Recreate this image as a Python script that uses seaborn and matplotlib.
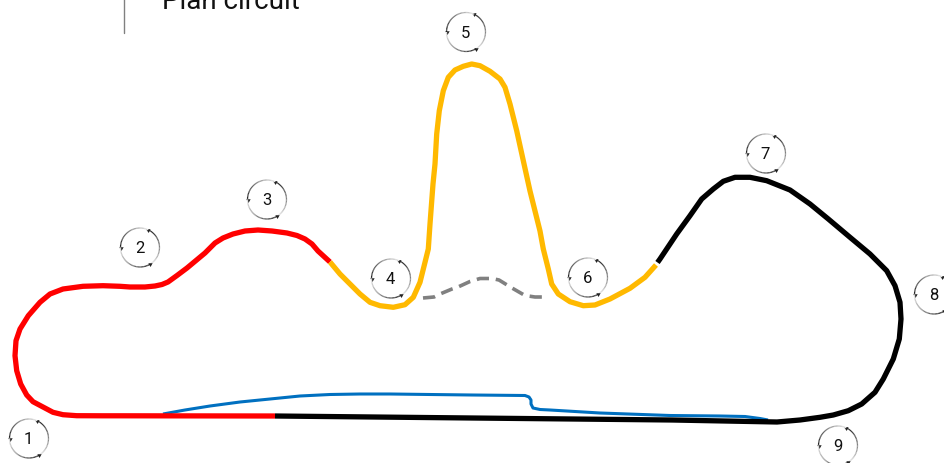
import numpy as np
import seaborn as sns
import matplotlib
matplotlib.use("Agg")
import matplotlib.pyplot as plt
from matplotlib.collections import LineCollection

sns.set_theme(style="white")
plt.rcParams['font.family'] = ['Roboto', 'DejaVu Sans']

red_x = [275,120,103,76.7,63,53,43,33,26.7,20.7,16.7,15,16,20,28.3,40,50,63,83,103,120,130,145,155,162,168,177,187,196,205,215,223,233,245,258,272,287,297,305,312,318,324,330]
red_y = [417,416.8,416.8,416.7,415.7,413.3,408,402.7,396,385,371.7,356.7,341.7,330,316.7,303.3,295,290,287.3,286.7,287.3,288,288,287,285.5,283,276.5,269,261.5,254,244,239,235,232,231,232,234,236.5,240,245,252,257.5,263]
orange_x = [330,340,350,360,370,380,393.3,405,413.3,420,425,428.3,430,433,435,436.7,439.3,443.3,448.3,455,463.3,471.7,480,490,500,505,510,516.7,523.3,530,540,543.3,548.3,551.7,558.3,570,583.3,595,610,630,645,656]
orange_y = [263,275,285,295,303.3,306.7,308.3,305.7,298.3,283.3,263.3,250,225,185,165,135,111.7,91.7,78.3,71,67.3,65,66.7,72.3,80,88.3,105,131.7,161.7,192,232,250,270,285,295,302.7,306.7,306,300,289.3,278.3,266]
black_x = [657.5,660,676.7,690,701.7,713.3,723.3,735,750,766.7,790,810,828.3,850,870,886.7,895,900,901,899.3,893.3,883.3,875,861.7,848.3,833.3,820,800,777,672,472,275]
black_y = [263.5,260,235,216.7,200,190,182.3,178.3,178.3,181.7,191,205,220,238.3,255,271.7,286.7,303.3,320,340,360,380,393.3,405,411.7,416,418.3,421,423,421,419,417]
grey_x = [423,434,440,452,458,470,480,492,499,512,525,535,546]
grey_y = [299,298,295,290,288,282.5,279.5,279.5,281,289,296.5,298,298]
blue_x = [163,185,210,240,270,300,330,360,390,430,472,525,529,531,531,533,540,550,600,670,720,745,760,768]
blue_y = [415,411,407,403,400,397,395.5,395,395,395.5,396,396.5,398,401,405,409,410.5,411,414,416.5,417,417.5,419.5,421]
turn_labels = ["1","2","3","4","5","6","7","8","9"]
turn_x = [29,140,267,391,466,588,766,934,838]
turn_y = [439.5,248.5,200.5,279.5,33,278.5,154.5,295.5,446.5]
title = "Plan circuit"

fig = plt.figure(figsize=(9.44,4.64), dpi=100, facecolor="white")
ax = fig.add_axes([0,0,1,1])

def track(x, y, color, lw, **kw):
    sns.lineplot(x=x, y=y, sort=False, estimator=None, color=color, linewidth=lw, ax=ax,
                 solid_joinstyle="round", **kw)

track(blue_x, blue_y, "#0070C0", 2.2, solid_capstyle="butt")
track(black_x, black_y, "#000000", 3.8, solid_capstyle="butt")
track(red_x, red_y, "#FF0000", 3.8, solid_capstyle="butt")
track(orange_x, orange_y, "#FFB900", 3.8, solid_capstyle="butt")
sns.lineplot(x=grey_x, y=grey_y, sort=False, estimator=None, color="#808080", linewidth=2.6, ax=ax,
             linestyle=(0,(3.4,1.9)), dash_capstyle="butt")

R = 19.5
arcs = [(59,-65),(-65,-180),(180,59)]
for cx, cy, label in zip(turn_x, turn_y, turn_labels):
    for a0, a1 in arcs:
        t = np.radians(np.linspace(a0, a1, 30))
        px = cx + R*np.cos(t)
        py = cy + R*np.sin(t)
        seg = np.stack([np.column_stack([px[:-1],py[:-1]]), np.column_stack([px[1:],py[1:]])], axis=1)
        g = np.linspace(0.9, 0.12, len(seg))
        ax.add_collection(LineCollection(seg, colors=[(v,v,v) for v in g], linewidths=0.9, capstyle="butt"))
        ax.plot([px[-1]],[py[-1]], marker=(3,0,-a1), markersize=3.6, color="#222222", mew=0)
    ax.text(cx-0.5, cy, label, ha="center", va="center", fontsize=12, color="#111111")

ax.plot([124,124],[0,33.5], color="#808080", lw=1)
ax.text(162, 9, title, ha="left", va="baseline", fontsize=20, color="#111111")

ax.set_xlim(0,944)
ax.set_ylim(464,0)
ax.set_xlabel("")
ax.set_ylabel("")
ax.axis("off")
fig.savefig("out.png", dpi=100, facecolor="white")
